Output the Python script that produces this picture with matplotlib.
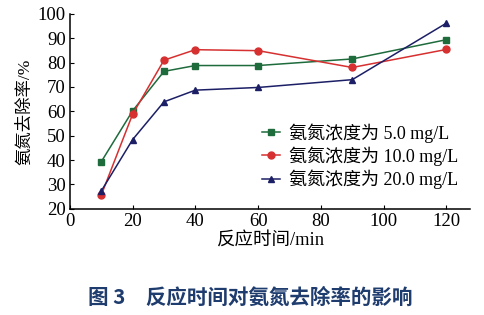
import matplotlib
matplotlib.use("Agg")
import matplotlib.pyplot as plt

plt.rcParams['font.family'] = ['Liberation Serif', 'Noto Sans CJK SC', 'DejaVu Sans']

time_min = [10, 20, 30, 40, 60, 90, 120]
rate_5 = [39.3, 60.2, 76.4, 78.8, 78.8, 81.5, 89.4]
rate_10 = [25.6, 58.8, 81.0, 85.3, 84.9, 78.0, 85.4]
rate_20 = [27.3, 48.4, 63.9, 68.7, 69.8, 73.0, 96.2]
labels = ['氨氮浓度为 5.0 mg/L', '氨氮浓度为 10.0 mg/L', '氨氮浓度为 20.0 mg/L']
xticks = [0, 20, 40, 60, 80, 100, 120]
yticks = [20, 30, 40, 50, 60, 70, 80, 90, 100]

fig = plt.figure(figsize=(4.85, 3.15), dpi=100)
ax = fig.add_axes([0.144, 0.337, 0.825, 0.619])

ax.plot(time_min, rate_5, color='#1e6b3c', marker='s', markersize=5, lw=1.1, label=labels[0])
ax.plot(time_min, rate_10, color='#d63030', marker='o', markersize=5, lw=1.1, label=labels[1])
ax.plot(time_min, rate_20, color='#1c1f66', marker='^', markersize=5, lw=1.1, label=labels[2])

ax.set_xlim(0, 127.5)
ax.set_ylim(20, 100)
ax.set_xticks(xticks)
ax.set_yticks(yticks)
ax.spines['top'].set_visible(False)
ax.spines['right'].set_visible(False)
ax.tick_params(direction='in', labelsize=13.5, length=3, pad=3)
for s in ['left', 'bottom']:
    ax.spines[s].set_linewidth(1.1)

ax.set_xlabel('反应时间/min', fontsize=13.3, labelpad=2)
ax.set_ylabel('氨氮去除率/%', fontsize=12.5, labelpad=3)

leg = ax.legend(loc='lower right', bbox_to_anchor=(0.99, 0.065), frameon=False, fontsize=13,
                handlelength=1.0, handletextpad=0.5, labelspacing=0.2, borderaxespad=0)

fig.text(0.515, 0.057, '图 3　反应时间对氨氮去除率的影响', ha='center', va='center',
         fontsize=14.8, fontweight='bold', color='#1f3c6e', family=['Noto Sans CJK SC', 'DejaVu Sans'])

fig.savefig('out.png', dpi=100)
